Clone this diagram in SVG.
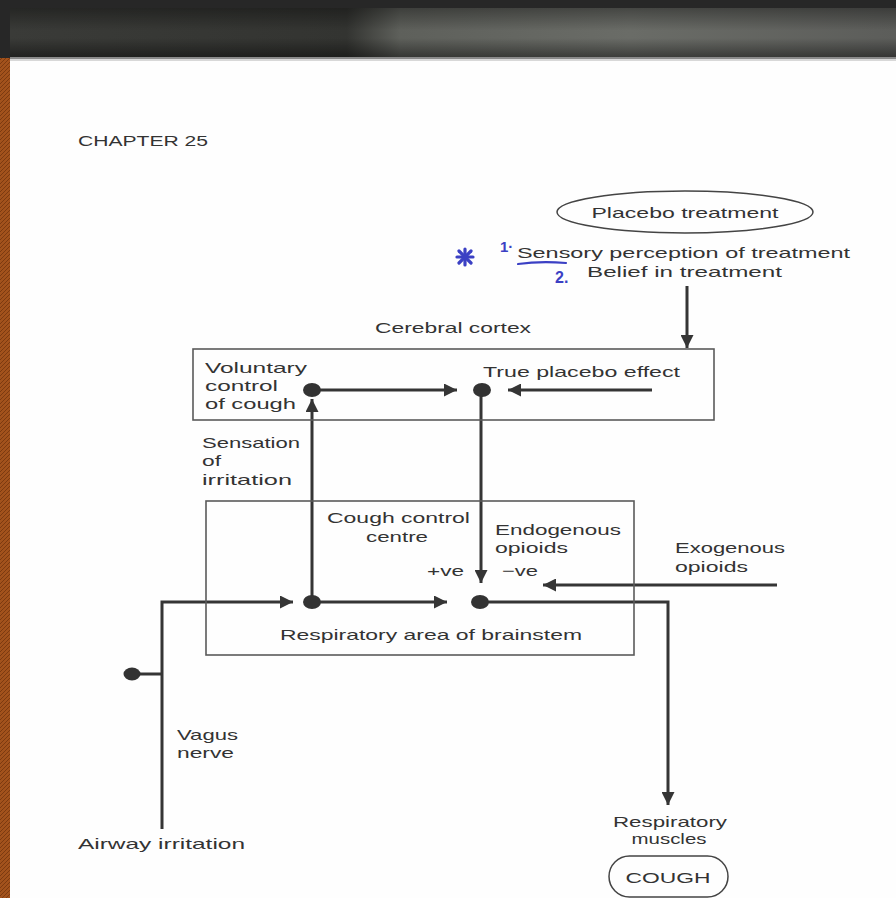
<svg xmlns="http://www.w3.org/2000/svg" width="896" height="898" viewBox="0 0 896 898">
<defs>
<style>
.t{font-family:"Liberation Sans",Arial,sans-serif;font-size:15px;fill:#333;}
.c{stroke:#353535;stroke-width:3;fill:none;}
.box{fill:none;stroke:#5a5a5a;stroke-width:1.6;}
.dot{fill:#333;}
.hand{font-family:"Liberation Sans",Arial,sans-serif;font-weight:bold;fill:#3b40c4;}
</style>
<marker id="ah" viewBox="0 0 10 10" refX="10" refY="5" markerWidth="15" markerHeight="13" markerUnits="userSpaceOnUse" orient="auto">
<path d="M0,0 L10,5 L0,10 z" fill="#353535"/>
</marker>
<linearGradient id="band" x1="0" y1="0" x2="1" y2="0">
<stop offset="0" stop-color="#3a3b38"/>
<stop offset="0.38" stop-color="#333431"/>
<stop offset="0.44" stop-color="#5e605b"/>
<stop offset="0.7" stop-color="#6a6c67"/>
<stop offset="1" stop-color="#5c5d5a"/>
</linearGradient>
<linearGradient id="bandv" x1="0" y1="0" x2="0" y2="1">
<stop offset="0" stop-color="#000" stop-opacity="0.35"/>
<stop offset="0.45" stop-color="#000" stop-opacity="0"/>
<stop offset="0.6" stop-color="#000" stop-opacity="0"/>
<stop offset="1" stop-color="#000" stop-opacity="0.45"/>
</linearGradient>
<pattern id="hatch" width="4" height="4" patternUnits="userSpaceOnUse">
<rect width="4" height="4" fill="#a2521c"/>
<path d="M0,4 L4,0" stroke="#7c3a10" stroke-width="1"/>
</pattern>
</defs>

<!-- page background -->
<rect x="0" y="0" width="896" height="898" fill="#fefefe"/>
<!-- top bar -->
<rect x="0" y="0" width="896" height="60" fill="#272727"/>
<rect x="10" y="8" width="886" height="50" fill="url(#band)"/>
<rect x="10" y="8" width="886" height="50" fill="url(#bandv)"/>
<rect x="10" y="57" width="886" height="2" fill="#8a8a8a"/>
<rect x="10" y="59" width="886" height="2" fill="#d8d8d8"/>
<!-- left strip -->
<rect x="0" y="58" width="10" height="840" fill="url(#hatch)"/>

<text class="t" x="78" y="146" font-size="14" textLength="130" lengthAdjust="spacingAndGlyphs" fill="#444">CHAPTER 25</text>

<!-- connectors -->
<g id="connectors">
<line class="c" x1="687" y1="286" x2="687" y2="348" marker-end="url(#ah)"/>
<line class="c" x1="312" y1="390" x2="457" y2="390" marker-end="url(#ah)"/>
<line class="c" x1="652" y1="390" x2="508" y2="390" marker-end="url(#ah)"/>
<line class="c" x1="481" y1="390" x2="481" y2="583" marker-end="url(#ah)"/>
<line class="c" x1="312" y1="602" x2="312" y2="399" marker-end="url(#ah)"/>
<polyline class="c" points="162,829 162,602 293,602" marker-end="url(#ah)"/>
<line class="c" x1="312" y1="602" x2="447" y2="602" marker-end="url(#ah)"/>
<line class="c" x1="777" y1="585" x2="543" y2="585" marker-end="url(#ah)"/>
<polyline class="c" points="480,602 668,602 668,805" marker-end="url(#ah)"/>
<line class="c" x1="132" y1="674" x2="162" y2="674"/>
</g>

<!-- placebo treatment -->
<g id="placebo">
<ellipse cx="685" cy="212" rx="128" ry="21" fill="none" stroke="#444" stroke-width="1.5"/>
<text class="t" x="685" y="218" font-size="16" text-anchor="middle" textLength="187" lengthAdjust="spacingAndGlyphs">Placebo treatment</text>
</g>

<g id="perception">
<text class="t" x="517" y="258" textLength="333" lengthAdjust="spacingAndGlyphs" font-size="17">Sensory perception of treatment</text>
<text class="t" x="587" y="277" textLength="195" lengthAdjust="spacingAndGlyphs" font-size="16.5">Belief in treatment</text>
</g>

<g id="annotations">
<g stroke="#3b40c4" stroke-width="3.2" stroke-linecap="round">
<line x1="457" y1="257" x2="473" y2="257"/>
<line x1="465" y1="249" x2="465" y2="265"/>
<line x1="459" y1="251" x2="471" y2="263"/>
<line x1="471" y1="251" x2="459" y2="263"/>
<path d="M518,264 Q540,261 566,263" fill="none" stroke-width="2.2"/>
</g>
<text class="hand" x="500" y="252" font-size="15">1·</text>
<text class="hand" x="555" y="283" font-size="16">2.</text>
</g>

<g id="cerebral-cortex">
<text class="t" x="375" y="333" font-size="16" textLength="156" lengthAdjust="spacingAndGlyphs">Cerebral cortex</text>
<rect class="box" x="193" y="349" width="521" height="71"/>
</g>

<g id="voluntary-control">
<text class="t" x="205" y="373" textLength="102" lengthAdjust="spacingAndGlyphs">Voluntary</text>
<text class="t" x="205" y="391" textLength="73" lengthAdjust="spacingAndGlyphs">control</text>
<text class="t" x="205" y="409" textLength="91" lengthAdjust="spacingAndGlyphs">of cough</text>
<ellipse class="dot" cx="312" cy="390" rx="9" ry="7"/>
</g>

<g id="true-placebo-effect">
<text class="t" x="483" y="377" font-size="16" textLength="197" lengthAdjust="spacingAndGlyphs">True placebo effect</text>
<ellipse class="dot" cx="482" cy="390" rx="9" ry="7"/>
</g>

<g id="sensation">
<text class="t" x="202" y="448" textLength="98" lengthAdjust="spacingAndGlyphs">Sensation</text>
<text class="t" x="202" y="466" textLength="19" lengthAdjust="spacingAndGlyphs">of</text>
<text class="t" x="202" y="485" textLength="90" lengthAdjust="spacingAndGlyphs">irritation</text>
</g>

<g id="brainstem">
<rect class="box" x="206" y="501" width="428" height="154"/>
<text class="t" x="280" y="640" font-size="16" textLength="302" lengthAdjust="spacingAndGlyphs">Respiratory area of brainstem</text>
</g>

<g id="cough-control-centre">
<text class="t" x="327" y="523" textLength="143" lengthAdjust="spacingAndGlyphs">Cough control</text>
<text class="t" x="397" y="542" text-anchor="middle" textLength="62" lengthAdjust="spacingAndGlyphs">centre</text>
<ellipse class="dot" cx="312" cy="602" rx="9" ry="7"/>
</g>

<g id="endogenous-opioids">
<text class="t" x="495" y="535" textLength="126" lengthAdjust="spacingAndGlyphs">Endogenous</text>
<text class="t" x="495" y="553" textLength="73" lengthAdjust="spacingAndGlyphs">opioids</text>
<text class="t" x="427" y="576" textLength="37" lengthAdjust="spacingAndGlyphs" font-size="14">+ve</text>
<text class="t" x="502" y="576" textLength="36" lengthAdjust="spacingAndGlyphs" font-size="14">−ve</text>
<ellipse class="dot" cx="480" cy="602" rx="9" ry="7"/>
</g>

<g id="exogenous-opioids">
<text class="t" x="675" y="553" textLength="110" lengthAdjust="spacingAndGlyphs">Exogenous</text>
<text class="t" x="675" y="572" textLength="73" lengthAdjust="spacingAndGlyphs">opioids</text>
</g>

<g id="vagus-nerve">
<ellipse class="dot" cx="132" cy="674" rx="8.5" ry="6.5"/>
<text class="t" x="177" y="740" textLength="61" lengthAdjust="spacingAndGlyphs">Vagus</text>
<text class="t" x="177" y="758" textLength="57" lengthAdjust="spacingAndGlyphs">nerve</text>
</g>

<g id="airway-irritation">
<text class="t" x="78" y="849" font-size="16" textLength="167" lengthAdjust="spacingAndGlyphs">Airway irritation</text>
</g>

<g id="respiratory-muscles">
<text class="t" x="613" y="827" font-size="14.5" textLength="114" lengthAdjust="spacingAndGlyphs">Respiratory</text>
<text class="t" x="669" y="844" font-size="14.5" text-anchor="middle" textLength="75" lengthAdjust="spacingAndGlyphs">muscles</text>
</g>

<g id="cough">
<rect x="609" y="856" width="119" height="41" rx="20.5" ry="20.5" fill="none" stroke="#444" stroke-width="1.5"/>
<text class="t" x="668" y="883" text-anchor="middle" textLength="85" lengthAdjust="spacingAndGlyphs" font-size="18">COUGH</text>
</g>
</svg>
